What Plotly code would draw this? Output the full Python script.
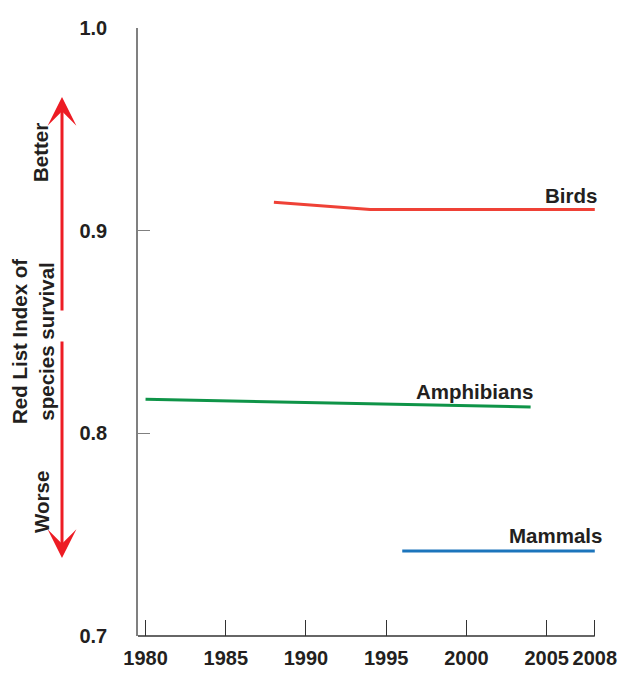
import plotly.graph_objects as go

# Data
birds_years = [1988, 1994, 2008]
birds_vals = [0.9140, 0.9105, 0.9105]
amph_years = [1980, 2004]
amph_vals = [0.8168, 0.8130]
mamm_years = [1996, 2008]
mamm_vals = [0.7420, 0.7420]
x_ticks = [1980, 1985, 1990, 1995, 2000, 2005, 2008]
y_ticks = [0.7, 0.8, 0.9, 1.0]
y_tick_text = ["0.7", "0.8", "0.9", "1.0"]

FONT = "Liberation Sans, Arial, Helvetica, sans-serif"
TXT = "#231f20"
RED = "#ed1c24"

fig = go.Figure()
fig.add_trace(go.Scatter(x=birds_years, y=birds_vals, mode="lines",
                         line=dict(color="#ef4136", width=3), hoverinfo="skip"))
fig.add_trace(go.Scatter(x=amph_years, y=amph_vals, mode="lines",
                         line=dict(color="#0f9448", width=3), hoverinfo="skip"))
fig.add_trace(go.Scatter(x=mamm_years, y=mamm_vals, mode="lines",
                         line=dict(color="#1c75bc", width=3), hoverinfo="skip"))

OFF = 8  # page body margin
W, H = 630 - OFF, 675 - OFF
L, R, T, B = 138 - OFF, 28, 28 - OFF, 39
pw = W - L - R
ph = H - T - B
X0, X1 = 1979.53, 2008.45

def px(x):
    return (x - OFF - L) / pw

def py(y):
    return (H - B - (y - OFF)) / ph

lab_font = dict(family=FONT, size=20.5, color=TXT, weight="bold")

annotations = [
    dict(x=px(599), y=py(196), xref="paper", yref="paper", text="Birds", showarrow=False,
         xanchor="right", yanchor="middle", font=lab_font),
    dict(x=px(535), y=py(391), xref="paper", yref="paper", text="Amphibians", showarrow=False,
         xanchor="right", yanchor="middle", font=lab_font),
    dict(x=px(604), y=py(535), xref="paper", yref="paper", text="Mammals", showarrow=False,
         xanchor="right", yanchor="middle", font=lab_font),
    dict(x=px(41), y=py(153), xref="paper", yref="paper", text="Better", showarrow=False,
         textangle=-90, xanchor="center", yanchor="middle", font=lab_font),
    dict(x=px(41), y=py(502), xref="paper", yref="paper", text="Worse", showarrow=False,
         textangle=-90, xanchor="center", yanchor="middle", font=lab_font),
    dict(x=px(33), y=py(342), xref="paper", yref="paper",
         text="Red List Index of<br>species survival", showarrow=False,
         textangle=-90, xanchor="center", yanchor="middle", font=lab_font,
         borderpad=0),
    # arrows
    dict(x=px(62), y=py(97), xref="paper", yref="paper", text="", showarrow=True,
         ax=0, ay=215, arrowhead=3, arrowsize=1.6, arrowwidth=3, arrowcolor=RED),
    dict(x=px(62), y=py(558), xref="paper", yref="paper", text="", showarrow=True,
         ax=0, ay=-218, arrowhead=3, arrowsize=1.6, arrowwidth=3, arrowcolor=RED),
]

# bottom axis line ending at the last tick (2008)
shapes = [dict(type="line", xref="x", yref="paper", x0=X0, x1=x_ticks[-1], y0=0, y1=0,
               line=dict(color="#333333", width=1.5), layer="above")]

tick_font = dict(family=FONT, size=20, color=TXT, weight="bold")

fig.update_layout(
    width=W, height=H,
    margin=dict(l=L, r=R, t=T, b=B, autoexpand=False),
    paper_bgcolor="white", plot_bgcolor="white",
    showlegend=False,
    annotations=annotations,
    shapes=shapes,
    xaxis=dict(range=[X0, X1], tickvals=x_ticks, ticktext=[str(v) for v in x_ticks],
               ticks="inside", ticklen=16, tickwidth=1.2, tickcolor="#333333",
               showline=False,
               showgrid=False, zeroline=False, tickfont=tick_font,
               ticklabelstandoff=8, automargin=False, fixedrange=True),
    yaxis=dict(range=[0.7, 1.0], tickvals=y_ticks, ticktext=y_tick_text,
               ticks="inside", ticklen=12, tickwidth=1.2, tickcolor="#808080",
               showline=True, linecolor="#808080", linewidth=1.5,
               showgrid=False, zeroline=False, tickfont=tick_font,
               ticklabelstandoff=25, automargin=False, fixedrange=True),
)

fig.write_html("out.html")
